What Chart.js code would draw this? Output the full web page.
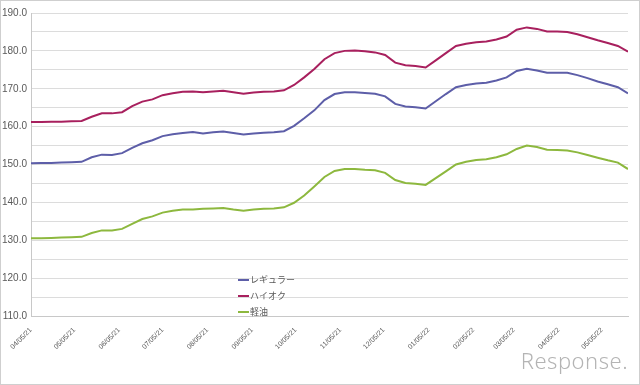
<!DOCTYPE html>
<html>
<head>
<meta charset="utf-8">
<script src="https://cdn.jsdelivr.net/npm/chart.js@4"></script>
<style>
  body { margin: 0; background: #fff; }
  #wrap { position: relative; width: 640px; height: 385px; }
  #frame { position: absolute; left: 0; top: 0; width: 638px; height: 383px; border: 1px solid #cfcfcf; pointer-events: none; }
  #logo { position: absolute; right: 12px; top: 345px; font-family: "Noto Sans", sans-serif; font-size: 22px; font-weight: 300; color: #b4b4b4; letter-spacing: 0.5px; }
</style>
</head>
<body>
<div id="wrap">
  <canvas id="priceChart" width="640" height="385"></canvas>
  <div id="frame"></div>
  <div id="logo">Response.</div>
</div>
<script>
// weekly survey, first week 2021-04-05
const startDate = Date.UTC(2021, 3, 5);

const regular = [150.3, 150.4, 150.4, 150.5, 150.6, 150.7, 151.9, 152.6, 152.5, 153.0,
  154.4, 155.6, 156.4, 157.5, 158.0, 158.3, 158.6, 158.2, 158.5, 158.7,
  158.3, 157.9, 158.2, 158.4, 158.5, 158.8, 160.2, 162.2, 164.3, 167.0,
  168.6, 169.1, 169.1, 168.9, 168.7, 168.0, 166.0, 165.3, 165.1, 164.8,
  166.7, 168.6, 170.4, 171.0, 171.4, 171.6, 172.2, 173.0, 174.7, 175.3,
  174.8, 174.2, 174.2, 174.2, 173.6, 172.8, 171.9, 171.2, 170.4, 168.8];

const highOctane = [161.2, 161.2, 161.3, 161.3, 161.4, 161.5, 162.6, 163.5, 163.5, 163.8,
  165.4, 166.6, 167.2, 168.3, 168.8, 169.2, 169.3, 169.1, 169.3, 169.5,
  169.1, 168.7, 169.0, 169.2, 169.3, 169.6, 171.0, 173.0, 175.2, 177.8,
  179.4, 180.0, 180.1, 179.9, 179.6, 178.9, 176.9, 176.2, 176.0, 175.6,
  177.5, 179.4, 181.3, 181.9, 182.3, 182.5, 183.0, 183.8, 185.6, 186.2,
  185.8, 185.1, 185.1, 185.0, 184.4, 183.6, 182.8, 182.1, 181.3, 179.8];

const diesel = [130.5, 130.5, 130.6, 130.7, 130.8, 130.9, 131.9, 132.6, 132.6, 133.0,
  134.3, 135.6, 136.3, 137.3, 137.8, 138.1, 138.1, 138.3, 138.4, 138.5,
  138.1, 137.8, 138.1, 138.3, 138.4, 138.7, 139.9, 141.8, 144.2, 146.7,
  148.3, 148.8, 148.8, 148.6, 148.5, 147.8, 145.9, 145.1, 144.9, 144.6,
  146.4, 148.2, 150.0, 150.7, 151.2, 151.4, 151.9, 152.7, 154.1, 155.0,
  154.6, 153.9, 153.8, 153.7, 153.2, 152.5, 151.8, 151.1, 150.5, 148.8];

const tickLabels = ['04/05/21', '05/05/21', '06/05/21', '07/05/21', '08/05/21', '09/05/21', '10/05/21',
  '11/05/21', '12/05/21', '01/05/22', '02/05/22', '03/05/22', '04/05/22', '05/05/22'];

const seriesNames = ['レギュラー', 'ハイオク', '軽油'];
const seriesColors = ['#5d5ea8', '#a8205e', '#8db83e'];

const dayOf = function (label) {
  const parts = label.split('/');
  const t = Date.UTC(2000 + parseInt(parts[2]), parseInt(parts[0]) - 1, parseInt(parts[1]));
  return Math.round((t - startDate) / 86400000);
};
const tickDays = tickLabels.map(dayOf);

const toPoints = function (values) {
  return values.map((v, i) => ({ x: i * 7, y: v }));
};

const legendInside = {
  id: 'legendInside',
  afterDraw(chart) {
    const ctx = chart.ctx;
    ctx.save();
    ctx.font = '9px "Noto Sans CJK JP"';
    ctx.textBaseline = 'middle';
    chart.data.datasets.forEach((ds, i) => {
      const y = 280 + i * 16;
      ctx.strokeStyle = ds.borderColor;
      ctx.lineWidth = 2;
      ctx.beginPath();
      ctx.moveTo(238, y);
      ctx.lineTo(249, y);
      ctx.stroke();
      ctx.fillStyle = '#595959';
      ctx.fillText(ds.label, 250, y);
    });
    ctx.restore();
  }
};

const data = {
  datasets: [regular, highOctane, diesel].map((values, i) => ({
    label: seriesNames[i],
    data: toPoints(values),
    borderColor: seriesColors[i],
    backgroundColor: seriesColors[i],
    borderWidth: 2,
    pointRadius: 0,
    tension: 0
  }))
};

const config = {
  type: 'line',
  data: data,
  options: {
    responsive: false,
    animation: false,
    layout: { padding: { top: 13, right: 12, left: 0, bottom: 0 } },
    plugins: { legend: { display: false }, tooltip: { enabled: false } },
    scales: {
      x: {
        type: 'linear',
        min: 0,
        max: (regular.length - 1) * 7,
        afterBuildTicks: scale => { scale.ticks = tickDays.map(v => ({ value: v })); },
        afterFit: scale => { scale.height = 69; },
        grid: { display: false },
        border: { color: '#c8c8c8' },
        ticks: {
          autoSkip: false,
          minRotation: 45,
          maxRotation: 45,
          padding: 2,
          color: '#595959',
          font: { family: '"Liberation Sans"', size: 7 },
          callback: value => tickLabels[tickDays.indexOf(value)]
        }
      },
      y: {
        min: 110,
        max: 190,
        afterFit: scale => { scale.width = 31; },
        grid: { color: '#dcdcdc', tickLength: 0 },
        border: { color: '#c8c8c8' },
        ticks: {
          stepSize: 5,
          padding: 4,
          color: '#595959',
          font: { family: '"Liberation Sans"', size: 10 },
          callback: value => (value % 10 === 0 ? value.toFixed(1) : '')
        }
      }
    }
  },
  plugins: [legendInside]
};

const priceChart = new Chart(document.getElementById('priceChart'), config);
</script>
</body>
</html>
